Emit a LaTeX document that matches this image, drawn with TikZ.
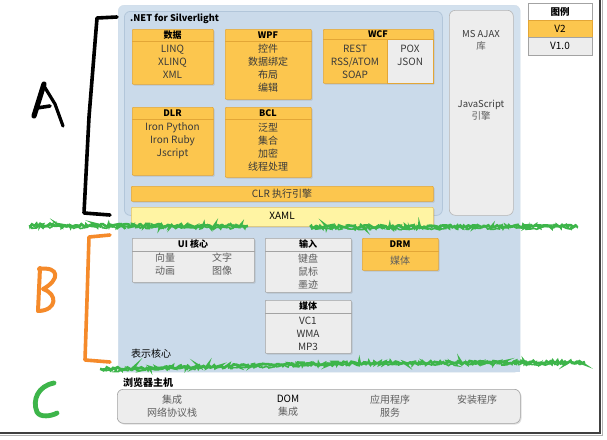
\documentclass[tikz,border=0pt]{standalone}
\usepackage{fontspec}
\setmainfont{Noto Sans CJK SC}
\usetikzlibrary{calc,shadows,decorations.pathmorphing}
\definecolor{bluebg}{HTML}{D3E1EE}
\definecolor{bluein}{HTML}{CADAEA}
\definecolor{blueline}{HTML}{B2C6DA}
\definecolor{ofill}{HTML}{FCC64E}
\definecolor{oline}{HTML}{E3A636}
\definecolor{xfill}{HTML}{FFF4A3}
\definecolor{xline}{HTML}{E6C564}
\definecolor{gfill}{HTML}{EDEDED}
\definecolor{gline}{HTML}{A3A3A3}
\definecolor{tdark}{HTML}{3A3A3A}
\definecolor{tgray}{HTML}{5E5E5E}
\definecolor{hgreen}{HTML}{3DB54A}
\definecolor{horange}{HTML}{F58A2A}
\tikzset{
  shad/.style={drop shadow={shadow xshift=1.2pt,shadow yshift=-1.2pt,opacity=0.25}},
  obox/.style={draw=oline, fill=ofill, line width=0.7pt, shad, rounded corners=0.8pt, anchor=north west, inner sep=0pt},
  xbox/.style={draw=xline, fill=xfill, line width=0.7pt, shad, rounded corners=0.8pt, anchor=north west, inner sep=0pt},
  gbox/.style={draw=gline, fill=gfill, line width=0.6pt, shad, rounded corners=0.8pt, anchor=north west, inner sep=0pt},
  hdr/.style={font=\bfseries\fontsize{9}{10}\selectfont, text=black, inner sep=0pt},
  body/.style={align=center, font=\fontsize{10}{13}\selectfont, text=tdark, inner sep=0pt},
  gbody/.style={align=center, font=\fontsize{10}{13}\selectfont, text=tgray, inner sep=0pt},
  ohl/.style={draw=oline, line width=0.7pt},
  ghl/.style={draw=gline, line width=0.6pt},
  hand/.style={line width=3.6pt, line cap=round, line join=round},
  grass/.style={hgreen, line width=2.6pt, decorate, decoration={random steps, segment length=1.5pt, amplitude=1.6pt}},
}
\begin{document}
\begin{tikzpicture}[x=1pt,y=-1pt]
\useasboundingbox (0,0) rectangle (607,439);
\fill[white] (0,0) rectangle (607,439);

% frame
\draw[gray!60, line width=1pt] (0,435.5) -- (602.5,435.5) -- (602.5,0);
\draw[black!75, line width=1.3pt] (0,433) -- (600,433) -- (600,0);

% big blue region
\node[fill=bluebg, draw=blueline!60, rounded corners=6pt, anchor=north west, minimum width=402pt, minimum height=367pt, inner sep=0pt] (blue) at (118,5) {};
% .NET box
\node[fill=bluein, draw=blueline, line width=0.8pt, rounded corners=6pt, anchor=north west, minimum width=318pt, minimum height=204pt, inner sep=0pt] (net) at (124,11) {};
\fill[bluein] (118.5,226) rectangle (519.5,371.5);
\node[anchor=west, font=\bfseries\fontsize{9.2}{10}\selectfont, inner sep=0pt] (netlbl) at (130,18.5) {.NET for Silverlight};

% MS AJAX
\node[fill=gfill, draw=gline!80, line width=0.6pt, rounded corners=6pt, anchor=north west, minimum width=64pt, minimum height=205pt, inner sep=0pt] (ajax) at (449,10) {};
\node[gbody, font=\fontsize{9.5}{13}\selectfont, text=tdark] (ajaxt) at (481,40) {MS AJAX\\[-1pt]\textcolor{tgray}{库}};
\node[gbody, font=\fontsize{9.5}{13}\selectfont, text=tdark] (jst) at (481,110) {JavaScript\\[-1pt]\textcolor{tgray}{引擎}};

% legend
\node[draw=gline, fill=white, anchor=north west, minimum width=64pt, minimum height=52pt, inner sep=0pt, shad] (leg) at (528,3) {};
\node[fill=ofill, draw=oline, anchor=north west, minimum width=64pt, minimum height=17pt, inner sep=0pt] (legv2) at (528,20) {};
\node[fill=gfill, draw=gline, anchor=north west, minimum width=64pt, minimum height=18pt, inner sep=0pt] (legv1) at (528,37) {};
\node[hdr, font=\bfseries\fontsize{9.5}{10}\selectfont] (legt) at (560,11.5) {图例};
\node[body, text=black] (legv2t) at (560,28.5) {V2};
\node[body, text=black] (legv1t) at (560,46) {V1.0};

% 数据
\node[obox, minimum width=81pt, minimum height=55pt] (shuju) at (132,29) {};
\draw[ohl] ($(shuju.north west)+(0,12)$) -- ($(shuju.north east)+(0,12)$);
\node[hdr] (shujuh) at (172.5,35) {数据};
\node[body] (shujub) at (172.5,62) {LINQ\\XLINQ\\XML};

% WPF
\node[obox, minimum width=86pt, minimum height=70pt] (wpf) at (225,29) {};
\draw[ohl] ($(wpf.north west)+(0,12)$) -- ($(wpf.north east)+(0,12)$);
\node[hdr] (wpfh) at (268,35) {WPF};
\node[body] (wpfb) at (268,68.5) {控件\\数据绑定\\布局\\编辑};

% WCF
\node[obox, minimum width=110pt, minimum height=54pt] (wcf) at (323,29) {};
\node[fill=gfill, draw=oline, line width=0.7pt, anchor=north west, minimum width=46pt, minimum height=44pt, inner sep=0pt] (pox) at (387,39) {};
\draw[ohl] ($(wcf.north west)+(0,10)$) -- ($(wcf.north east)+(0,10)$);
\node[hdr] (wcfh) at (378,34) {WCF};
\node[body] (wcfb) at (355,62) {REST\\RSS/ATOM\\SOAP};
\node[body] (poxb) at (410,55.5) {POX\\JSON};

% DLR
\node[obox, minimum width=81pt, minimum height=68pt] (dlr) at (132,107) {};
\draw[ohl] ($(dlr.north west)+(0,12)$) -- ($(dlr.north east)+(0,12)$);
\node[hdr] (dlrh) at (172.5,113) {DLR};
\node[body] (dlrb) at (172.5,140.5) {Iron Python\\Iron Ruby\\Jscript};

% BCL
\node[obox, minimum width=86pt, minimum height=70pt] (bcl) at (225,107) {};
\draw[ohl] ($(bcl.north west)+(0,12)$) -- ($(bcl.north east)+(0,12)$);
\node[hdr] (bclh) at (268,113) {BCL};
\node[body] (bclb) at (268,147) {泛型\\集合\\加密\\线程处理};

% CLR & XAML
\node[obox, minimum width=302pt, minimum height=15pt] (clr) at (131,186) {};
\node[body] (clrt) at (282,193.5) {CLR 执行引擎};
\node[xbox, minimum width=302pt, minimum height=19pt] (xaml) at (131,207) {};
\node[body, text=black] (xamlt) at (282,215.5) {XAML};

% UI 核心
\node[gbox, minimum width=122pt, minimum height=44pt] (ui) at (132,238) {};
\draw[ghl] ($(ui.north west)+(0,13)$) -- ($(ui.north east)+(0,13)$);
\node[hdr] (uih) at (193,244.5) {UI 核心};
\node[gbody] (uib1) at (165,264.5) {向量\\动画};
\node[gbody] (uib2) at (222,264.5) {文字\\图像};

% 输入
\node[gbox, minimum width=86pt, minimum height=54pt] (inp) at (265,238) {};
\draw[ghl] ($(inp.north west)+(0,13)$) -- ($(inp.north east)+(0,13)$);
\node[hdr] (inph) at (308,244.5) {输入};
\node[gbody] (inpb) at (308,272) {键盘\\鼠标\\墨迹};

% DRM
\node[obox, minimum width=76pt, minimum height=32pt] (drm) at (362,238) {};
\draw[ohl] ($(drm.north west)+(0,13)$) -- ($(drm.north east)+(0,13)$);
\node[hdr] (drmh) at (400,244.5) {DRM};
\node[gbody] (drmb) at (400,261) {媒体};

% 媒体
\node[gbox, minimum width=86pt, minimum height=53pt] (media) at (265,300) {};
\draw[ghl] ($(media.north west)+(0,13)$) -- ($(media.north east)+(0,13)$);
\node[hdr] (mediah) at (308,306.5) {媒体};
\node[body, text=black!80] (mediab) at (308,333.5) {VC1\\WMA\\MP3};

\node[anchor=west, font=\fontsize{10}{12}\selectfont, inner sep=0pt] (present) at (131,354) {表示核心};

% browser host
\node[anchor=west, font=\bfseries\fontsize{10}{12}\selectfont, inner sep=0pt] (bhl) at (123,383) {浏览器主机};
\node[fill=gfill, draw=gline, line width=0.6pt, rounded corners=6pt, anchor=north west, minimum width=403pt, minimum height=34pt, inner sep=0pt, shad] (bh) at (117,389) {};
\node[gbody] (bh1) at (172,406) {集成\\网络协议栈};
\node[gbody, text=black] (bh2) at (288,406) {DOM\\\textcolor{tgray}{集成}};
\node[gbody] (bh3) at (390,406) {应用程序\\服务};
\node[gbody] (bh4) at (477,399.5) {安装程序};

% hand drawings
\draw[hand, black] (117,17) -- (97,18) -- (89,117) -- (84,213) -- (110,215);
\draw[hand, black, line width=5.2pt] (34,116) -- (44,84);
\draw[hand, black, line width=3.2pt] (44,86) -- (55,104) -- (63,126);
\draw[hand, black, line width=3.6pt] (37,108) -- (50,106);
\draw[hand, horange] (110,235) -- (89,237) -- (87,300) -- (85,360) -- (110,362);
\draw[hand, horange, line width=4pt] (40,268) -- (38,311);
\draw[hand, horange, line width=4pt] (39,269) .. controls (60,266) and (60,280) .. (43,289) .. controls (58,294) and (57,310) .. (39,311);
\draw[hand, hgreen, line width=4.8pt] (54,383) .. controls (38,386) and (32,400) .. (37,412) .. controls (40,418) and (52,416) .. (57,413);
\draw[grass] (30,225) -- (248,226);
\draw[grass, line width=1.6pt] (32,227) -- (246,227.5);
\draw[grass] (310,227) -- (577,226);
\draw[grass, line width=1.6pt] (312,228.5) -- (575,227.5);
\draw[grass] (100,369) -- (340,363) -- (585,362);
\draw[grass, line width=1.6pt] (102,370.5) -- (340,364.5) -- (583,363.5);
\end{tikzpicture}
\end{document}
